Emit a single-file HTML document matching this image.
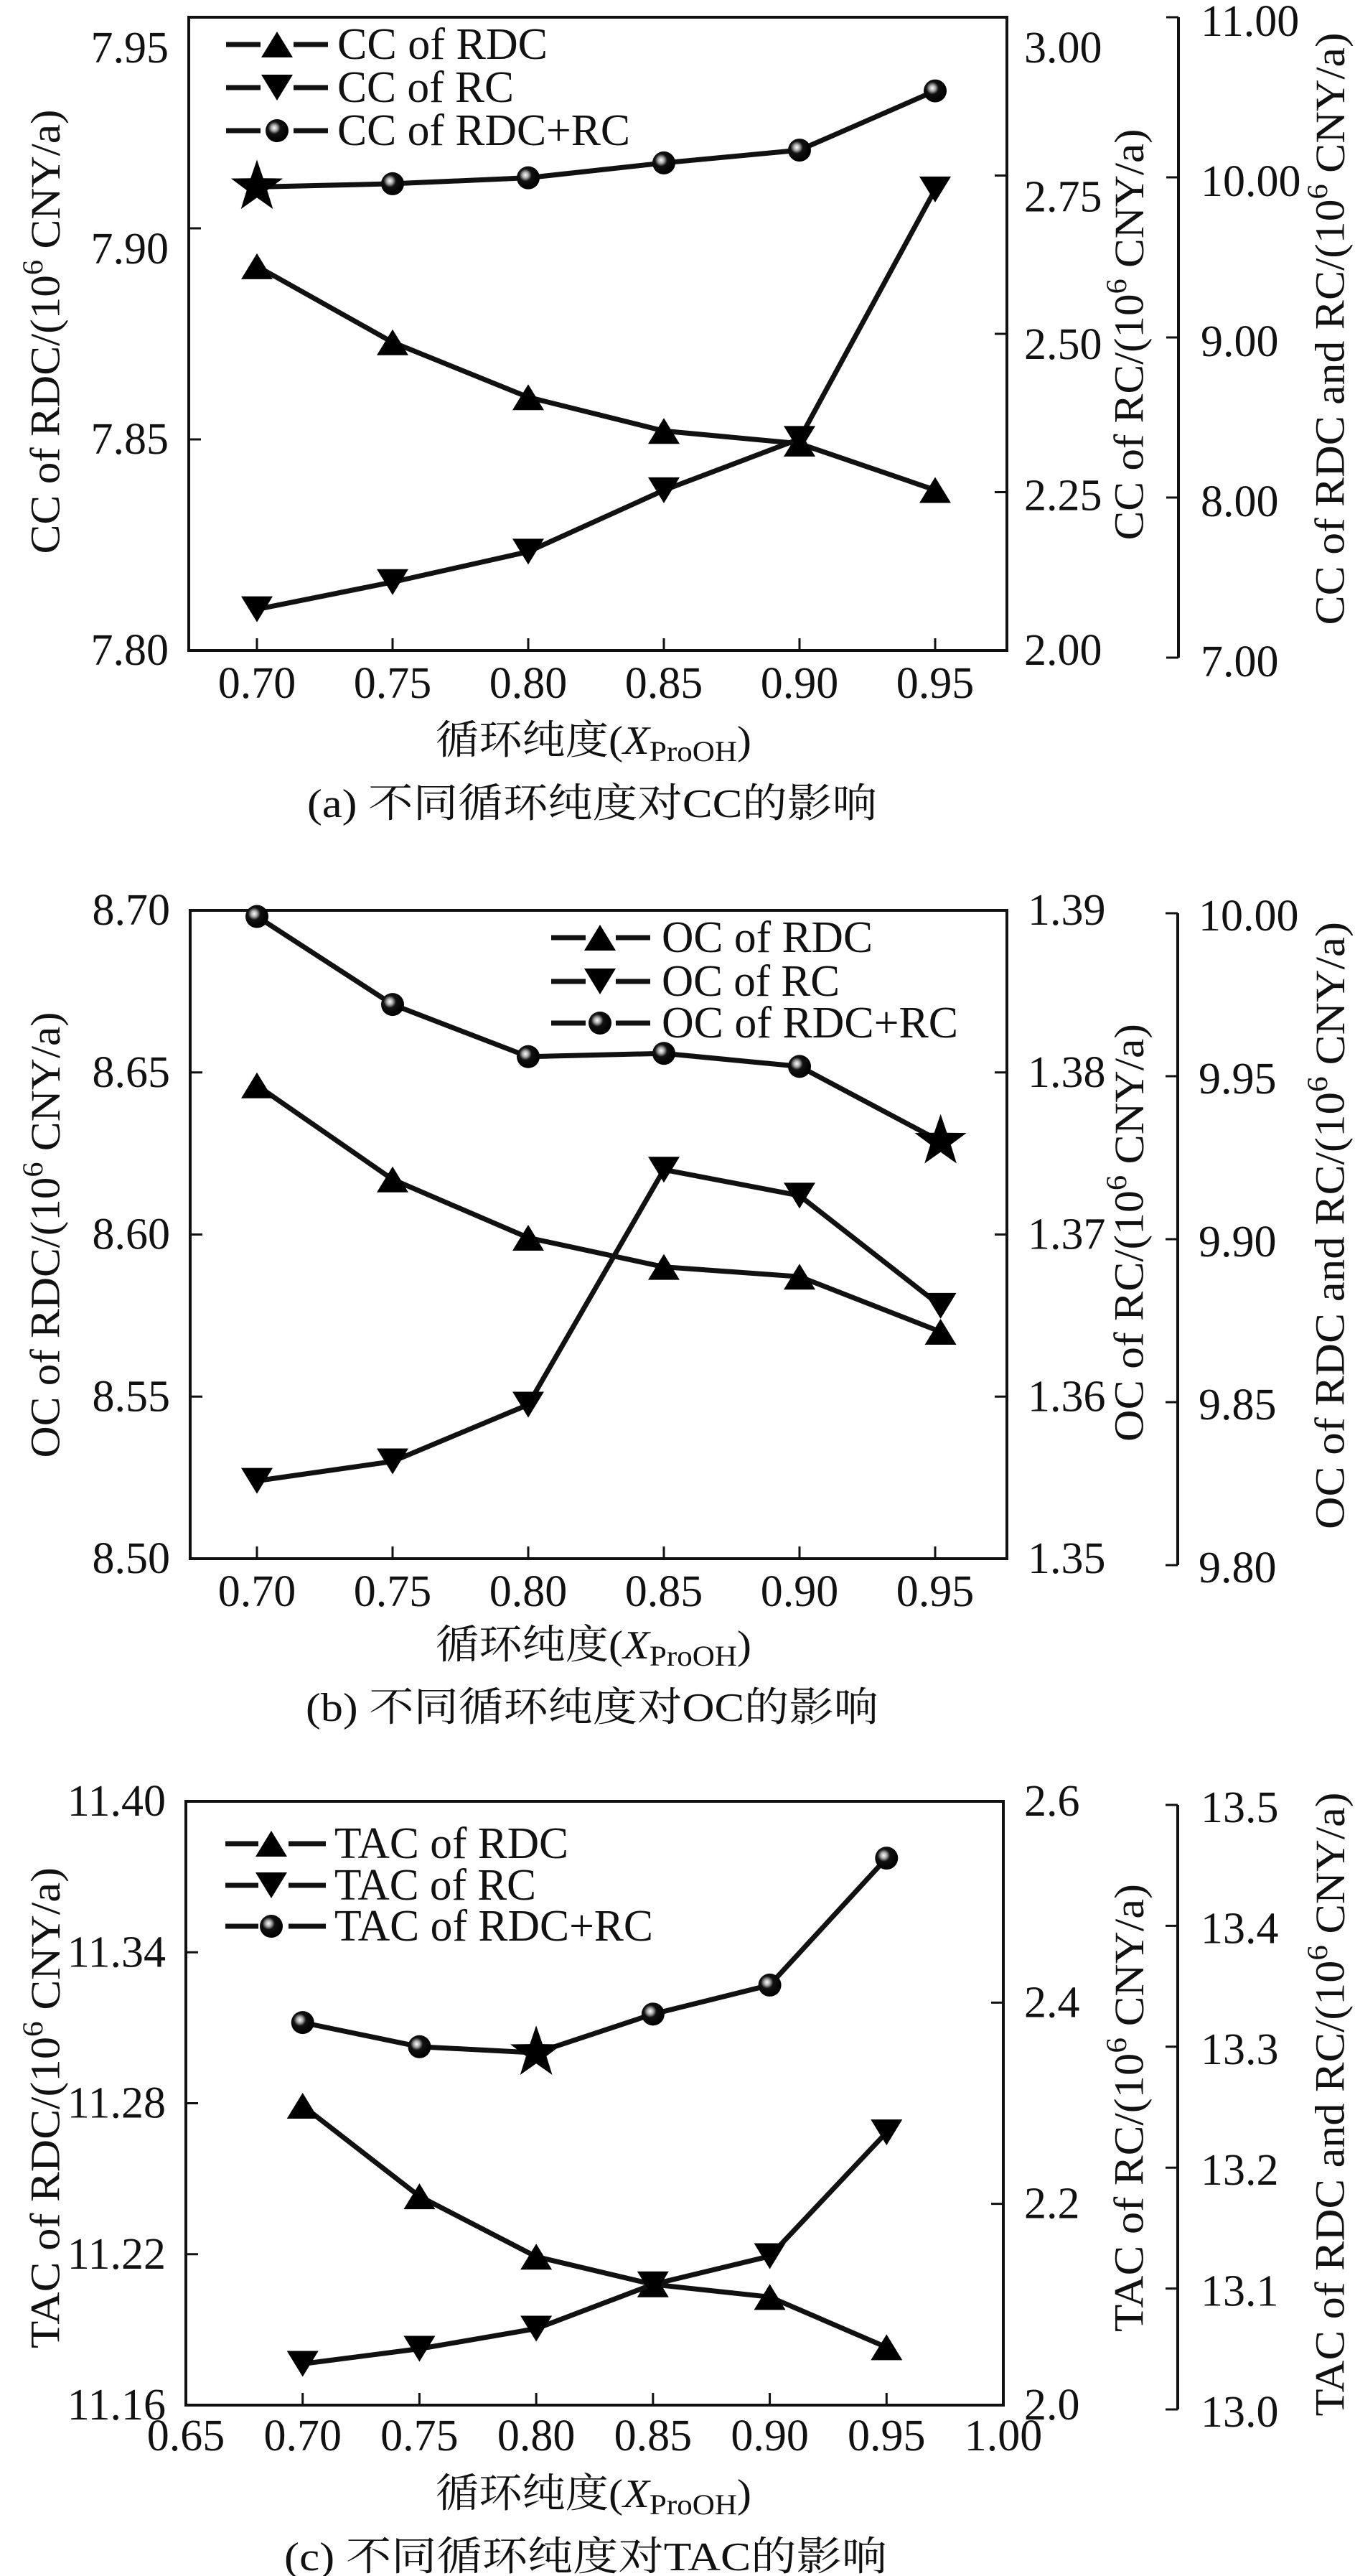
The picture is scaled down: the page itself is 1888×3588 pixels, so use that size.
<!DOCTYPE html>
<html><head><meta charset="utf-8"><style>
html,body{margin:0;padding:0;background:#fff;}
svg{display:block;}
text{fill:#111;font-family:"Liberation Serif","Noto Serif CJK SC",serif;}
</style></head><body>
<svg id="fig" width="1888" height="3588" viewBox="0 0 1888 3588" xmlns="http://www.w3.org/2000/svg">
<defs>
<radialGradient id="ball" cx="0.38" cy="0.38" r="0.6">
<stop offset="0" stop-color="#fff"/><stop offset="0.22" stop-color="#aaa"/><stop offset="0.45" stop-color="#111"/><stop offset="1" stop-color="#000"/>
</radialGradient>
</defs>
</svg>
<script>
// ---- data ----
const xValsA=[0.70,0.75,0.80,0.85,0.90,0.95];
const ccRDC=[7.891,7.873,7.860,7.852,7.849,7.838];
const ccRC=[2.065,2.108,2.156,2.253,2.334,2.728];
const ccSum=[9.94,9.96,9.997,10.09,10.17,10.54];
const xTicksA=[0.70,0.75,0.80,0.85,0.90,0.95];
const xTickLabelsA=["0.70","0.75","0.80","0.85","0.90","0.95"];
const leftTicksA=[7.80,7.85,7.90,7.95];
const leftTickLabelsA=["7.80","7.85","7.90","7.95"];
const rightTicksA=[2.00,2.25,2.50,2.75,3.00];
const rightTickLabelsA=["2.00","2.25","2.50","2.75","3.00"];
const thirdTicksA=[7,8,9,10,11];
const thirdTickLabelsA=["7.00","8.00","9.00","10.00","11.00"];

const xValsB=[0.70,0.75,0.80,0.85,0.90,0.952];
const ocRDC=[8.646,8.617,8.599,8.590,8.587,8.570];
const ocRC=[1.3548,1.3560,1.3595,1.3740,1.3724,1.3656];
const ocSum=[9.999,9.972,9.956,9.957,9.953,9.930];
const xTicksB=[0.70,0.75,0.80,0.85,0.90,0.95];
const xTickLabelsB=["0.70","0.75","0.80","0.85","0.90","0.95"];
const leftTicksB=[8.50,8.55,8.60,8.65,8.70];
const leftTickLabelsB=["8.50","8.55","8.60","8.65","8.70"];
const rightTicksB=[1.35,1.36,1.37,1.38,1.39];
const rightTickLabelsB=["1.35","1.36","1.37","1.38","1.39"];
const thirdTicksB=[9.80,9.85,9.90,9.95,10.00];
const thirdTickLabelsB=["9.80","9.85","9.90","9.95","10.00"];

const xValsC=[0.70,0.75,0.80,0.85,0.90,0.95];
const tacRDC=[11.279,11.243,11.219,11.208,11.203,11.183];
const tacRC=[2.041,2.056,2.076,2.120,2.148,2.271];
const tacSum=[13.32,13.30,13.295,13.327,13.351,13.456];
const xTicksC=[0.65,0.70,0.75,0.80,0.85,0.90,0.95,1.00];
const xTickLabelsC=["0.65","0.70","0.75","0.80","0.85","0.90","0.95","1.00"];
const leftTicksC=[11.16,11.22,11.28,11.34,11.40];
const leftTickLabelsC=["11.16","11.22","11.28","11.34","11.40"];
const rightTicksC=[2.0,2.2,2.4,2.6];
const rightTickLabelsC=["2.0","2.2","2.4","2.6"];
const thirdTicksC=[13.0,13.1,13.2,13.3,13.4,13.5];
const thirdTickLabelsC=["13.0","13.1","13.2","13.3","13.4","13.5"];

const NS="http://www.w3.org/2000/svg";
const svg=document.getElementById('fig');
function mk(tag,attrs,parent){const e=document.createElementNS(NS,tag);for(const k in attrs)e.setAttribute(k,attrs[k]);(parent||svg).appendChild(e);return e;}
function lin(d0,d1,p0,p1){return v=>p0+(v-d0)/(d1-d0)*(p1-p0);}
function tri(g,x,y,up){const w=22,h=18;const pts=up?`${x-w},${y+h} ${x+w},${y+h} ${x},${y-h}`:`${x-w},${y-h} ${x+w},${y-h} ${x},${y+h}`;return mk('polygon',{points:pts,fill:'#000'},g);}
function ball(g,x,y){return mk('circle',{cx:x,cy:y,r:16,fill:'url(#ball)'},g);}
function star(g,x,y){const R=38,r=15;let p=[];for(let i=0;i<10;i++){const a=-Math.PI/2+i*Math.PI/5;const rr=i%2?r:R;p.push((x+rr*Math.cos(a)).toFixed(1)+','+(y+rr*Math.sin(a)).toFixed(1));}return mk('polygon',{points:p.join(' '),fill:'#000'},g);}

function panel(P){
  const g=mk('g',{});
  
  
  const sx=lin(P.xd[0],P.xd[1],P.xp[0],P.xp[1]);
  const sl=lin(P.ld[0],P.ld[1],P.b,P.t);
  const sr=lin(P.rd[0],P.rd[1],P.b,P.t);
  const s3=lin(P.td[0],P.td[1],P.tp[0],P.tp[1]);
  const box=mk('rect',{x:P.l,y:P.t,width:P.r-P.l,height:P.b-P.t,fill:'none',stroke:'#111','stroke-width':4},g);
  
  
  // x ticks
  P.xt.forEach((v,i)=>{const x=sx(v);
    mk('line',{x1:x,y1:P.b,x2:x,y2:P.b-17,stroke:'#111','stroke-width':3},g);
    const t=mk('text',{x:x,y:P.xly,'font-size':62,'text-anchor':'middle','dominant-baseline':'central'},g);t.textContent=P.xtl[i];
    
    });
  // left ticks
  P.lt.forEach((v,i)=>{const y=sl(v);
    mk('line',{x1:P.l,y1:y,x2:P.l+17,y2:y,stroke:'#111','stroke-width':3},g);
    const t=mk('text',{x:P.l-28,y:y+(P.loff?P.loff[i]:0),'font-size':62,'text-anchor':'end','dominant-baseline':'central'},g);t.textContent=P.ltl[i];
    
    });
  P.rt.forEach((v,i)=>{const y=sr(v);
    mk('line',{x1:P.r,y1:y,x2:P.r-17,y2:y,stroke:'#111','stroke-width':3},g);
    const t=mk('text',{x:P.rlx,y:y+(P.roff?P.roff[i]:0),'font-size':62,'dominant-baseline':'central'},g);t.textContent=P.rtl[i];
    
    });
  // third axis
  const ax=mk('line',{x1:P.tx,y1:P.tp[1],x2:P.tx,y2:P.tp[0],stroke:'#111','stroke-width':4},g);
  
  
  P.tt.forEach((v,i)=>{const y=s3(v);
    mk('line',{x1:P.tx,y1:y,x2:P.tx-17,y2:y,stroke:'#111','stroke-width':3},g);
    const t=mk('text',{x:P.tlx,y:y+(P.toff||0),'font-size':62,'dominant-baseline':'central'},g);t.textContent=P.ttl[i];
    
    });
  // titles
  P.titles.forEach(T=>{const t=mk('text',{x:0,y:0,'font-size':58,'text-anchor':'middle','dominant-baseline':'central',transform:`translate(${T.x},${T.y}) rotate(-90)`,textLength:T.len,lengthAdjust:'spacingAndGlyphs'},g);
    t.innerHTML=T.a+'(10<tspan font-size="40" dy="-18">6</tspan><tspan dy="18"> CNY/a)</tspan>';
    
    });
  // series
  const series=[
    {vals:P.s1,sc:sl,kind:'up',name:'series-rdc'},
    {vals:P.s2,sc:sr,kind:'down',name:'series-rc'},
    {vals:P.s3,sc:s3,kind:'ball',name:'series-sum'}];
  series.forEach(S=>{
    const sg=mk('g',{},g);
    
    
    const pts=S.vals.map((v,i)=>[sx(P.xv[i]),S.sc(v)]);
    mk('polyline',{points:pts.map(p=>p.join(',')).join(' '),fill:'none',stroke:'#111','stroke-width':7,'stroke-linejoin':'round'},sg);
    pts.forEach((p,i)=>{let m;
      if(S.kind==='ball'&&i===P.starIdx)m=star(sg,p[0],p[1]);
      else if(S.kind==='ball')m=ball(sg,p[0],p[1]);
      else m=tri(sg,p[0],p[1],S.kind==='up');
      
      });
  });
  // legend
  const lg=mk('g',{},g);
  
  
  ['up','down','ball'].forEach((k,i)=>{const y=P.leg.rows[i];
    const e=mk('g',{},lg);
    
    
    mk('line',{x1:P.leg.s1[0],y1:y,x2:P.leg.s1[1],y2:y,stroke:'#111','stroke-width':7},e);
    mk('line',{x1:P.leg.s2[0],y1:y,x2:P.leg.s2[1],y2:y,stroke:'#111','stroke-width':7},e);
    if(k==='ball')ball(e,P.leg.m,y);else tri(e,P.leg.m,y,k==='up');
    const t=mk('text',{x:P.leg.tx,y:y,'font-size':62,'dominant-baseline':'central',textLength:P.leg.len[i],lengthAdjust:'spacingAndGlyphs'},e);
    t.textContent=P.leg.labels[i];});
  // x label & caption
  const xl=mk('text',{x:P.xlabX,y:P.xlabY,'font-size':56,'text-anchor':'middle','dominant-baseline':'central',textLength:440,lengthAdjust:'spacingAndGlyphs'},g);
  xl.innerHTML='循环纯度(<tspan font-style="italic">X</tspan><tspan font-size="40" dy="14">ProOH</tspan><tspan dy="-14">)</tspan>';
  
  
  const cp=mk('text',{x:P.capX,y:P.capY,'font-size':56,'text-anchor':'middle','dominant-baseline':'central',textLength:P.capLen,lengthAdjust:'spacingAndGlyphs'},g);
  cp.textContent=P.cap;
  
  
}

panel({name:'panel-a-cc',l:263,r:1403,t:24,b:906,xd:[0.70,0.95],xp:[358,1303],
  ld:[7.80,7.95],rd:[2.00,3.00],td:[7,11],tp:[916,24],tx:1642,
  xt:xTicksA,xtl:xTickLabelsA,xly:952,lt:leftTicksA,ltl:leftTickLabelsA,loff:[0,0,29,43],
  rt:rightTicksA,rtl:rightTickLabelsA,roff:[0,5,15,30,43],rlx:1427,
  tt:thirdTicksA,ttl:thirdTickLabelsA,tlx:1673,toff:6,
  xv:xValsA,s1:ccRDC,s2:ccRC,s3:ccSum,starIdx:0,
  titles:[{x:63,y:462,len:619,a:'CC of RDC/',name:'left-y-axis-title'},{x:1573,y:466,len:573,a:'CC of RC/',name:'right-y-axis-title'},{x:1853,y:458,len:825,a:'CC of RDC and RC/',name:'third-y-axis-title'}],
  leg:{rows:[62,122,182],s1:[315,363],s2:[409,457],m:386,tx:470,len:[293,246,408],labels:['CC of RDC','CC of RC','CC of RDC+RC']},
  xlabX:827,xlabY:1032,capX:825,capY:1120,capLen:794,cap:'(a) 不同循环纯度对CC的影响'});

panel({name:'panel-b-oc',l:265,r:1403,t:1268,b:2171,xd:[0.70,0.95],xp:[358,1303],
  ld:[8.50,8.70],rd:[1.35,1.39],td:[9.80,10.00],tp:[2180,1272],tx:1641,
  xt:xTicksB,xtl:xTickLabelsB,xly:2217,lt:leftTicksB,ltl:leftTickLabelsB,
  rt:rightTicksB,rtl:rightTickLabelsB,rlx:1432,
  tt:thirdTicksB,ttl:thirdTickLabelsB,tlx:1670,toff:4,
  xv:xValsB,s1:ocRDC,s2:ocRC,s3:ocSum,starIdx:5,
  titles:[{x:63,y:1720,len:621,a:'OC of RDC/',name:'left-y-axis-title'},{x:1573,y:1717,len:582,a:'OC of RC/',name:'right-y-axis-title'},{x:1853,y:1707,len:846,a:'OC of RDC and RC/',name:'third-y-axis-title'}],
  leg:{rows:[1306,1367,1425],s1:[768,816],s2:[858,906],m:836,tx:922,len:[294,248,413],labels:['OC of RDC','OC of RC','OC of RDC+RC']},
  xlabX:827,xlabY:2292,capX:825,capY:2379,capLen:798,cap:'(b) 不同循环纯度对OC的影响'});

panel({name:'panel-c-tac',l:259,r:1398,t:2509,b:3350,xd:[0.65,1.00],xp:[259,1398],
  ld:[11.16,11.40],rd:[2.0,2.6],td:[13.0,13.5],tp:[3356,2514],tx:1641,
  xt:xTicksC,xtl:xTickLabelsC,xly:3393,lt:leftTicksC,ltl:leftTickLabelsC,
  rt:rightTicksC,rtl:rightTickLabelsC,rlx:1427,
  tt:thirdTicksC,ttl:thirdTickLabelsC,tlx:1673,toff:4,
  xv:xValsC,s1:tacRDC,s2:tacRC,s3:tacSum,starIdx:2,
  titles:[{x:63,y:2936,len:670,a:'TAC of RDC/',name:'left-y-axis-title'},{x:1573,y:2936,len:624,a:'TAC of RC/',name:'right-y-axis-title'},{x:1853,y:2931,len:869,a:'TAC of RDC and RC/',name:'third-y-axis-title'}],
  leg:{rows:[2568,2626,2683],s1:[314,360],s2:[402,454],m:378,tx:466,len:[326,281,444],labels:['TAC of RDC','TAC of RC','TAC of RDC+RC']},
  xlabX:827,xlabY:3474,capX:816,capY:3562,capLen:840,cap:'(c) 不同循环纯度对TAC的影响'});
</script>
</body></html>
